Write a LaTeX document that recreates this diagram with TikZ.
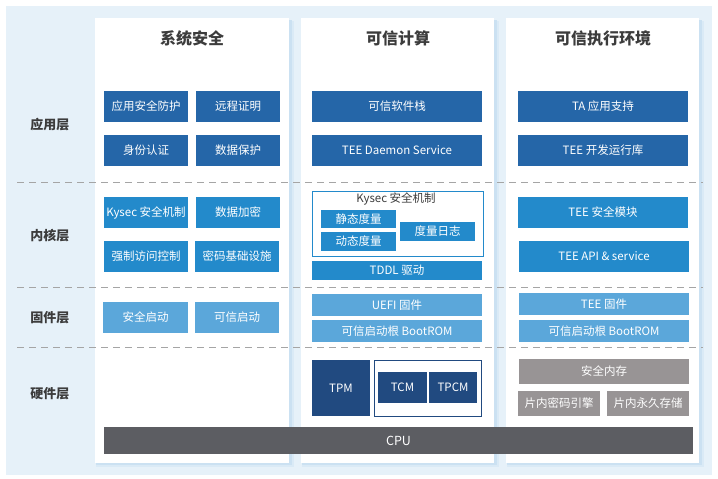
\documentclass[tikz,border=0pt]{standalone}
\usepackage{fontspec}
\setmainfont{Noto Sans CJK SC}
\definecolor{bgblue}{HTML}{E6F1F9}
\definecolor{shade1}{HTML}{DAEAF6}
\definecolor{shade2}{HTML}{CBE1F2}
\definecolor{appblue}{HTML}{2566A8}
\definecolor{kernblue}{HTML}{238ACB}
\definecolor{firmblue}{HTML}{5BA7DA}
\definecolor{hwnavy}{HTML}{214A80}
\definecolor{memgray}{HTML}{989495}
\definecolor{cpugray}{HTML}{5C5D62}
\definecolor{dashgray}{HTML}{A5A5A5}
\definecolor{titlegray}{HTML}{3C3C3C}
\begin{document}
\begin{tikzpicture}[x=1pt, y=-1pt,
    blk/.style={inner sep=0pt, outer sep=0pt, text=white, font=\fontsize{11.5}{13}\selectfont},
    appblk/.style={blk, fill=appblue, minimum height=31pt},
    kernblk/.style={blk, fill=kernblue},
    firmblk/.style={blk, fill=firmblue},
    hwblk/.style={blk, fill=hwnavy},
    memblk/.style={blk, fill=memgray},
    coltitle/.style={text=titlegray, font=\fontsize{16}{18}\selectfont\bfseries},
    layertitle/.style={text=titlegray, font=\fontsize{13}{15}\selectfont\bfseries},
    layerline/.style={dashgray, line width=0.9pt, dash pattern=on 7pt off 5pt}]
    \useasboundingbox (0,0) rectangle (718,479);
    \fill[white] (0,0) rectangle (718,479);
    \fill[bgblue] (6,6) rectangle (712,475);

    % panels
    \foreach \xl/\xr in {95/289, 301/494, 506/699}{
        \fill[shade1] (\xl+1,21) rectangle (\xr+5,467);
        \fill[shade2] (\xl+1,20) rectangle (\xr+2.5,465);
        \fill[white] (\xl,18) rectangle (\xr,463);
    }

    \node[coltitle] (xtaq) at (192,38) {系统安全};
    \node[coltitle] (kxjs) at (398,38) {可信计算};
    \node[coltitle] (kxzx) at (603,38) {可信执行环境};

    \node[layertitle] (yyc) at (50,125) {应用层};
    \node[layertitle] (nhc) at (50,236) {内核层};
    \node[layertitle] (gjc) at (50,318) {固件层};
    \node[layertitle] (yjc) at (50,394) {硬件层};

    \draw[layerline] (17,182) -- (703,182);
    \draw[layerline] (17,287) -- (703,287);
    \draw[layerline] (17,347) -- (703,347);

    % application layer
    \node[appblk, minimum width=84pt] (yyaq) at (146,106.5) {应用安全防护};
    \node[appblk, minimum width=84pt] (yczm) at (238,106.5) {远程证明};
    \node[appblk, minimum width=84pt] (sfrz) at (146,150.5) {身份认证};
    \node[appblk, minimum width=84pt] (sjbh) at (238,150.5) {数据保护};
    \node[appblk, minimum width=170pt] (kxrj) at (397,106.5) {可信软件栈};
    \node[appblk, minimum width=170pt] (daemon) at (397,150.5) {TEE Daemon Service};
    \node[appblk, minimum width=170pt] (tazc) at (603,106.5) {TA 应用支持};
    \node[appblk, minimum width=170pt] (teeyx) at (603,150.5) {TEE 开发运行库};

    % kernel layer
    \node[kernblk, minimum width=84pt, minimum height=31pt] (kysec) at (146,212.5) {Kysec 安全机制};
    \node[kernblk, minimum width=84pt, minimum height=31pt] (sjjm) at (238,212.5) {数据加密};
    \node[kernblk, minimum width=84pt, minimum height=31pt] (qzfw) at (146,256.5) {强制访问控制};
    \node[kernblk, minimum width=84pt, minimum height=31pt] (mmjc) at (237,256.5) {密码基础设施};
    \node[draw=kernblue, line width=1pt, inner sep=0pt, minimum width=171pt, minimum height=65pt] (kysecbox) at (397.5,223.5) {};
    \node[text=titlegray, font=\fontsize{11.5}{13}\selectfont] (kysect) at (396,199) {Kysec 安全机制};
    \node[kernblk, minimum width=75pt, minimum height=18pt] (jtdl) at (358.5,219) {静态度量};
    \node[kernblk, minimum width=75pt, minimum height=19pt] (dtdl) at (358.5,241.5) {动态度量};
    \node[kernblk, minimum width=75pt, minimum height=19pt] (dlrz) at (437.5,231.5) {度量日志};
    \node[kernblk, minimum width=170pt, minimum height=19pt] (tddl) at (397,270.5) {TDDL 驱动};
    \node[kernblk, minimum width=170pt, minimum height=31pt] (teemk) at (603,212.5) {TEE 安全模块};
    \node[kernblk, minimum width=170pt, minimum height=31pt] (teeapi) at (604,256.5) {TEE API \& service};

    % firmware layer
    \node[firmblk, minimum width=85pt, minimum height=31pt] (aqqd) at (145.5,317.5) {安全启动};
    \node[firmblk, minimum width=84pt, minimum height=31pt] (kxqd) at (237,317.5) {可信启动};
    \node[firmblk, minimum width=170pt, minimum height=22pt] (uefi) at (397,305) {UEFI 固件};
    \node[firmblk, minimum width=170pt, minimum height=22pt] (bootrom) at (397,331) {可信启动根 BootROM};
    \node[firmblk, minimum width=170pt, minimum height=22pt] (teegj) at (604,304) {TEE 固件};
    \node[firmblk, minimum width=170pt, minimum height=22pt] (teerom) at (604,331) {可信启动根 BootROM};

    % hardware layer
    \node[hwblk, minimum width=58pt, minimum height=56pt] (tpm) at (341,388) {TPM};
    \node[draw=hwnavy, line width=1pt, inner sep=0pt, minimum width=107pt, minimum height=56pt] (tcmbox) at (427.5,388) {};
    \node[hwblk, minimum width=49pt, minimum height=31pt] (tcm) at (402.5,387.5) {TCM};
    \node[hwblk, minimum width=48pt, minimum height=31pt] (tpcm) at (453,387.5) {TPCM};
    \node[memblk, minimum width=170pt, minimum height=25pt] (aqnc) at (604,371.5) {安全内存};
    \node[memblk, minimum width=82pt, minimum height=25pt] (mmyq) at (559,403.5) {片内密码引擎};
    \node[memblk, minimum width=82pt, minimum height=25pt] (yjcc) at (648,403.5) {片内永久存储};
    \node[blk, fill=cpugray, minimum width=589pt, minimum height=27pt, font=\fontsize{12.5}{14}\selectfont] (cpu) at (398.5,440.5) {CPU};
\end{tikzpicture}
\end{document}
